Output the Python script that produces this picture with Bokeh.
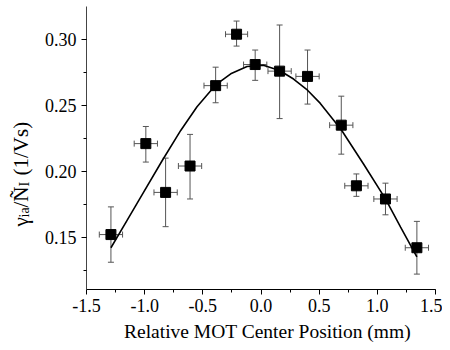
import math
from bokeh.plotting import figure
from bokeh.models import (Range1d, SingleIntervalTicker, PrintfTickFormatter, Whisker,
                          TeeHead, ColumnDataSource, Label, LinearAxis)
from bokeh.embed import file_html
from bokeh.resources import INLINE

# ---- data ----
x_pos = [-1.29, -0.99, -0.82, -0.61, -0.39, -0.21, -0.05, 0.16, 0.40, 0.69, 0.82, 1.07, 1.34]
y_val = [0.152, 0.221, 0.184, 0.204, 0.265, 0.304, 0.281, 0.276, 0.272, 0.235, 0.189, 0.179, 0.142]
y_hi = [0.173, 0.234, 0.210, 0.228, 0.279, 0.314, 0.292, 0.311, 0.292, 0.257, 0.198, 0.191, 0.162]
y_lo = [0.131, 0.207, 0.158, 0.179, 0.252, 0.295, 0.269, 0.240, 0.251, 0.213, 0.181, 0.167, 0.122]
x_err = [0.10, 0.10, 0.10, 0.10, 0.10, 0.095, 0.10, 0.10, 0.10, 0.10, 0.10, 0.10, 0.10]

fit_x = [-1.29, -1.15, -1.01, -0.85, -0.69, -0.55, -0.39, -0.26, -0.12, 0.02,
         0.16, 0.28, 0.40, 0.51, 0.69, 0.88, 1.07, 1.20, 1.34]
fit_y = [0.142, 0.163, 0.184, 0.208, 0.231, 0.249, 0.2655, 0.274, 0.2795, 0.2805,
         0.2765, 0.270, 0.2615, 0.2515, 0.2315, 0.2057, 0.1791, 0.1576, 0.135]

x_label = "Relative MOT Center Position (mm)"
y_label_parts = ["γ", "ia", "/Ñ", "I", "(1/Vs)"]

FONT = "Liberation Serif"
W, H = 442, 342

src = ColumnDataSource(dict(
    x=x_pos, y=y_val, hi=y_hi, lo=y_lo,
    xl=[a - e for a, e in zip(x_pos, x_err)],
    xh=[a + e for a, e in zip(x_pos, x_err)],
))

# the plotting frame covers the whole canvas; the axes are placed at fixed locations
X0, X1 = -1.5, 1.5          # x-axis extent
Y0, Y1 = 0.1103, 0.325      # y-axis extent
p = figure(width=W, height=H, output_backend="svg", toolbar_location=None,
           x_range=Range1d(-2.2393, 1.5602), y_range=Range1d(0.07011, 0.32959),
           x_axis_location=None, y_axis_location=None,
           min_border=0, min_border_left=0, min_border_right=0,
           min_border_top=0, min_border_bottom=0)
p.outline_line_color = None
p.xgrid.visible = False
p.ygrid.visible = False
p.background_fill_color = "white"

# error bars
err_col = "#555555"
p.add_layout(Whisker(source=src, base="x", upper="hi", lower="lo", dimension="height",
                     line_color=err_col, line_width=1,
                     upper_head=TeeHead(size=6, line_color=err_col, line_width=1),
                     lower_head=TeeHead(size=6, line_color=err_col, line_width=1)))
p.add_layout(Whisker(source=src, base="y", upper="xh", lower="xl", dimension="width",
                     line_color=err_col, line_width=1,
                     upper_head=TeeHead(size=6, line_color=err_col, line_width=1),
                     lower_head=TeeHead(size=6, line_color=err_col, line_width=1)))

# fit curve
p.line(fit_x, fit_y, line_color="black", line_width=1.6)

# points
p.scatter("x", "y", source=src, marker="square", size=10,
          fill_color="black", line_color="black")

# axes
xaxis = LinearAxis(fixed_location=Y0, bounds=(X0, X1),
                   ticker=SingleIntervalTicker(interval=0.5, num_minor_ticks=2),
                   formatter=PrintfTickFormatter(format="%.1f"))
yaxis = LinearAxis(fixed_location=X0, bounds=(Y0, Y1),
                   ticker=SingleIntervalTicker(interval=0.05, num_minor_ticks=2),
                   formatter=PrintfTickFormatter(format="%.2f"))
for ax in (xaxis, yaxis):
    ax.major_tick_in = 0
    ax.major_tick_out = 5
    ax.minor_tick_in = 0
    ax.minor_tick_out = 3
    ax.major_label_text_font = FONT
    ax.major_label_text_font_size = "18px"
    ax.major_label_text_color = "black"
    ax.axis_line_width = 1
    ax.major_tick_line_color = "black"
    ax.minor_tick_line_color = "black"
xaxis.major_label_standoff = 4
yaxis.major_label_standoff = 5
xaxis.axis_line_color = "black"
yaxis.axis_line_color = "#444444"
p.add_layout(xaxis, "below")
p.add_layout(yaxis, "left")

# x-axis title (screen px, relative to the frame; y measured from the bottom)
p.add_layout(Label(x=267, y=11, x_units="screen", y_units="screen", text=x_label,
                   text_align="center", text_baseline="alphabetic",
                   text_font=FONT, text_font_size="19.5px", text_color="black"))

# y-axis title built from parts (main text + subscripts), rotated
bx = 20
main = "21px"
sub = "14px"
sizes = [main, sub, main, sub, main]
shifts = [0, 4, 0, 4, 0]
starts_from_top = [226, 217, 207, 186, 175]   # where each part begins (reading upward)
for txt, fs, shift, s in zip(y_label_parts, sizes, shifts, starts_from_top):
    p.add_layout(Label(x=bx + shift, y=H - s, x_units="screen", y_units="screen", text=txt,
                       angle=math.pi / 2, text_align="left", text_baseline="alphabetic",
                       text_font=FONT, text_font_size=fs, text_color="black"))

open("out.html", "w").write(file_html(p, INLINE))
